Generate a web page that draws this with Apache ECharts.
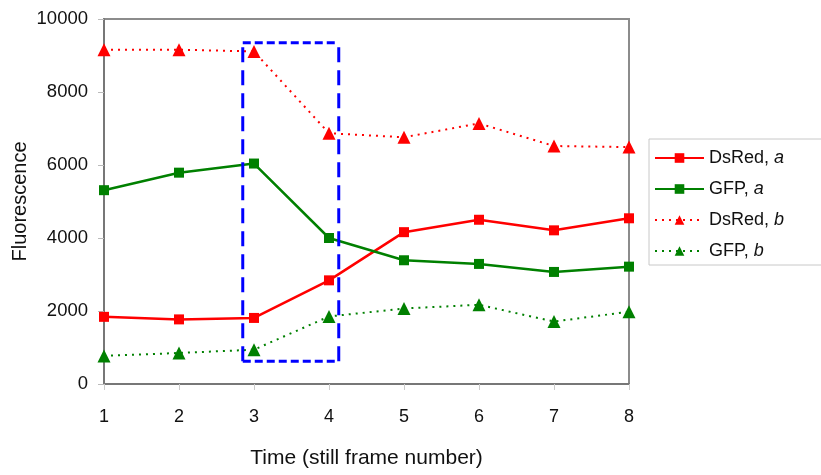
<!DOCTYPE html>
<html>
<head>
<meta charset="utf-8">
<script src="https://cdn.jsdelivr.net/npm/echarts@6/dist/echarts.min.js"></script>
<style>html,body{margin:0;padding:0;background:#fff}#c{width:821px;height:475px}</style>
</head>
<body>
<div id="c"></div>
<script>
const frames = [1, 2, 3, 4, 5, 6, 7, 8];
const dsRedA = [1840, 1770, 1810, 2840, 4160, 4500, 4210, 4540];
const gfpA   = [5310, 5790, 6040, 4000, 3390, 3290, 3070, 3215];
const dsRedB = [9160, 9160, 9110, 6870, 6760, 7140, 6520, 6490];
const gfpB   = [770, 850, 940, 1850, 2070, 2170, 1710, 1980];
const boxX = [2.85, 4.13];
const boxY = [620, 9350];
const yTicks = [0, 2000, 4000, 6000, 8000, 10000];

const pairs = arr => frames.map((f, i) => [f, arr[i]]);
const FONT = '"Liberation Sans", Arial, sans-serif';

function dataSeries(name, values, color, symbol, lineType, width, size) {
  return {
    name, type: 'line', data: pairs(values), symbol, symbolSize: size,
    lineStyle: { color, width, type: lineType },
    itemStyle: { color },
    z: 3, animation: false
  };
}
function boxSeries(data, dash) {
  return {
    type: 'line', data, symbol: 'none', silent: true, z: 4, animation: false,
    lineStyle: { color: '#0000ff', width: 3, type: dash }
  };
}

const chart = echarts.init(document.getElementById('c'));
chart.setOption({
  backgroundColor: '#fff',
  animation: false,
  grid: { left: 104, right: 192, top: 19, bottom: 91, show: true, borderColor: '#8c8c8c', borderWidth: 2, containLabel: false, outerBoundsMode: 'none' },
  xAxis: {
    type: 'value', min: 1, max: 8, interval: 1,
    name: 'Time (still frame number)', nameLocation: 'middle', nameGap: 64, nameMoveOverlap: false,
    nameTextStyle: { fontFamily: FONT, fontSize: 21, color: '#111' },
    axisLine: { show: true, lineStyle: { color: '#777', width: 2 } },
    axisTick: { show: true, length: 6, lineStyle: { color: '#ccc' } },
    axisLabel: { fontFamily: FONT, fontSize: 18, color: '#111', margin: 24 },
    splitLine: { show: false }
  },
  yAxis: {
    type: 'value', min: yTicks[0], max: yTicks[yTicks.length - 1], interval: 2000,
    name: 'Fluorescence', nameLocation: 'middle', nameGap: 74, nameMoveOverlap: false,
    nameTextStyle: { fontFamily: FONT, fontSize: 20, color: '#111' },
    axisLine: { show: true, lineStyle: { color: '#777', width: 2 } },
    axisTick: { show: true, length: 6, lineStyle: { color: '#bbb' } },
    axisLabel: { fontFamily: FONT, fontSize: 18.5, color: '#111', margin: 16, formatter: v => String(v) },
    splitLine: { show: false }
  },
  legend: {
    orient: 'vertical', left: 649, top: 139,
    padding: [10, 40, 5, 5], itemGap: 13, itemWidth: 49, itemHeight: 12,
    borderColor: '#c8c8c8', borderWidth: 1,
    data: ['DsRed, a', 'GFP, a', 'DsRed, b', 'GFP, b'],
    formatter: name => { const p = name.split(', '); return '{n|' + p[0] + ', }{i|' + p[1] + '}'; },
    textStyle: {
      fontFamily: FONT, fontSize: 18, color: '#111',
      rich: { n: { fontFamily: FONT, fontSize: 18, color: '#111' }, i: { fontFamily: FONT, fontSize: 18, fontStyle: 'italic', color: '#111' } }
    }
  },
  series: [
    dataSeries('DsRed, a', dsRedA, '#ff0000', 'rect', 'solid', 2.5, 10),
    dataSeries('GFP, a', gfpA, '#008000', 'rect', 'solid', 2.5, 10),
    dataSeries('DsRed, b', dsRedB, '#ff0000', 'triangle', [2, 5], 2, 13),
    dataSeries('GFP, b', gfpB, '#008000', 'triangle', [2, 5], 2, 13),
    boxSeries([[boxX[0], boxY[1]], [boxX[1], boxY[1]]], [8, 4]),
    boxSeries([[boxX[0], boxY[0]], [boxX[1], boxY[0]]], [8, 4]),
    boxSeries([[boxX[0], boxY[0]], [boxX[0], boxY[1]]], [15, 8]),
    boxSeries([[boxX[1], boxY[0]], [boxX[1], boxY[1]]], [15, 8])
  ]
});
</script>
</body>
</html>
